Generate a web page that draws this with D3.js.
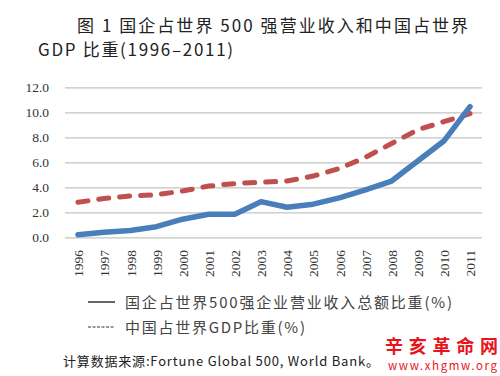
<!DOCTYPE html>
<html lang="zh">
<head>
<meta charset="UTF-8">
<title>图1</title>
<style>
  body { margin: 0; background: #fff; }
  svg { display: block; }
  svg text.num { font-family: "Times New Roman", Times, "Liberation Serif", "DejaVu Serif", serif; font-size: 13.5px; }
</style>
</head>
<body>
<script src="https://cdn.jsdelivr.net/npm/d3@7"></script>
<script>
// data
let years = [1996, 1997, 1998, 1999, 2000, 2001, 2002, 2003, 2004, 2005, 2006, 2007, 2008, 2009, 2010, 2011];
let soeShare = [0.2, 0.4, 0.55, 0.85, 1.45, 1.85, 1.85, 2.85, 2.4, 2.65, 3.15, 3.8, 4.5, 6.1, 7.7, 10.45];
let gdpShare = [2.8, 3.1, 3.3, 3.4, 3.7, 4.1, 4.3, 4.4, 4.5, 4.9, 5.5, 6.4, 7.5, 8.6, 9.25, 9.9];
let yTicks = [0, 2, 4, 6, 8, 10, 12];
let legendLabels = ['国企占世界500强企业营业收入总额比重(%)', '中国占世界GDP比重(%)'];

let svg = d3.select('body').append('svg')
    .attr('width', 500)
    .attr('height', 376);

let x = d3.scaleLinear().domain([1996, 2011]).range([78, 470]);
let y = d3.scaleLinear().domain([0, 12]).range([237.3, 87.3]);

let sans = '"Noto Sans CJK SC", "Noto Sans", sans-serif';

// title
svg.append('text')
    .attr('x', 77).attr('y', 32)
    .attr('textLength', 391).attr('lengthAdjust', 'spacing')
    .style('font', '17px ' + sans).attr('fill', '#222')
    .text('图 1 国企占世界 500 强营业收入和中国占世界');
svg.append('text')
    .attr('x', 38).attr('y', 56)
    .attr('textLength', 195).attr('lengthAdjust', 'spacing')
    .style('font', '17px ' + sans).attr('fill', '#222')
    .text('GDP 比重(1996–2011)');

// gridlines + y axis
let yAxis = svg.append('g')
    .attr('transform', 'translate(65,0)')
    .call(d3.axisLeft(y).tickValues(yTicks).tickFormat(d3.format('.1f')).tickSize(-417).tickPadding(16));
yAxis.select('.domain').remove();
yAxis.selectAll('line').attr('stroke', '#c4c4c4').attr('stroke-width', 1.3);
yAxis.selectAll('text').classed('num', true).attr('fill', '#333');

// x labels, rotated
let xAxis = svg.append('g')
    .attr('transform', 'translate(0,248)')
    .call(d3.axisBottom(x).tickValues(years).tickFormat(d3.format('d')).tickSize(0));
xAxis.select('.domain').remove();
xAxis.selectAll('text')
    .classed('num', true).attr('fill', '#333')
    .attr('transform', 'rotate(-90)')
    .attr('x', -2).attr('y', 0).attr('dy', '0.35em')
    .style('text-anchor', 'end');

let line = (vals) => d3.line()
    .x((d, i) => x(years[i]))
    .y(d => y(d))(vals);

svg.append('path')
    .attr('d', line(gdpShare))
    .attr('fill', 'none')
    .attr('stroke', '#c0504d')
    .attr('stroke-width', 5)
    .attr('stroke-linecap', 'round')
    .attr('stroke-dasharray', '10,11');

svg.append('path')
    .attr('d', line(soeShare))
    .attr('fill', 'none')
    .attr('stroke', '#4a7ebb')
    .attr('stroke-width', 5.5)
    .attr('stroke-linejoin', 'round')
    .attr('stroke-linecap', 'round');

// legend
let legend = svg.append('g');
legend.append('line')
    .attr('x1', 88).attr('x2', 115).attr('y1', 302).attr('y2', 302)
    .attr('stroke', '#333').attr('stroke-width', 1.5);
legend.append('line')
    .attr('x1', 88).attr('x2', 115).attr('y1', 327).attr('y2', 327)
    .attr('stroke', '#333').attr('stroke-width', 1.2).attr('stroke-dasharray', '3,1.5');
legend.append('text')
    .attr('x', 125).attr('y', 307.5)
    .attr('textLength', 327).attr('lengthAdjust', 'spacing')
    .style('font', '15px ' + sans).attr('fill', '#444')
    .text(legendLabels[0]);
legend.append('text')
    .attr('x', 125).attr('y', 332.5)
    .attr('textLength', 180).attr('lengthAdjust', 'spacing')
    .style('font', '15px ' + sans).attr('fill', '#444')
    .text(legendLabels[1]);

// source note
svg.append('text')
    .attr('x', 63).attr('y', 366)
    .attr('textLength', 316).attr('lengthAdjust', 'spacing')
    .style('font', '13px ' + sans).attr('fill', '#222')
    .text('计算数据来源:Fortune Global 500, World Bank。');

// watermark
svg.append('text')
    .attr('x', 385).attr('y', 353)
    .attr('textLength', 113).attr('lengthAdjust', 'spacing')
    .style('font', 'bold 18px ' + sans).attr('fill', '#e8141b')
    .text('辛亥革命网');
svg.append('text')
    .attr('x', 388).attr('y', 370)
    .attr('textLength', 109).attr('lengthAdjust', 'spacing')
    .style('font', '11.5px ' + sans).attr('fill', '#e8141b')
    .text('www.xhgmw.org');
</script>
</body>
</html>
